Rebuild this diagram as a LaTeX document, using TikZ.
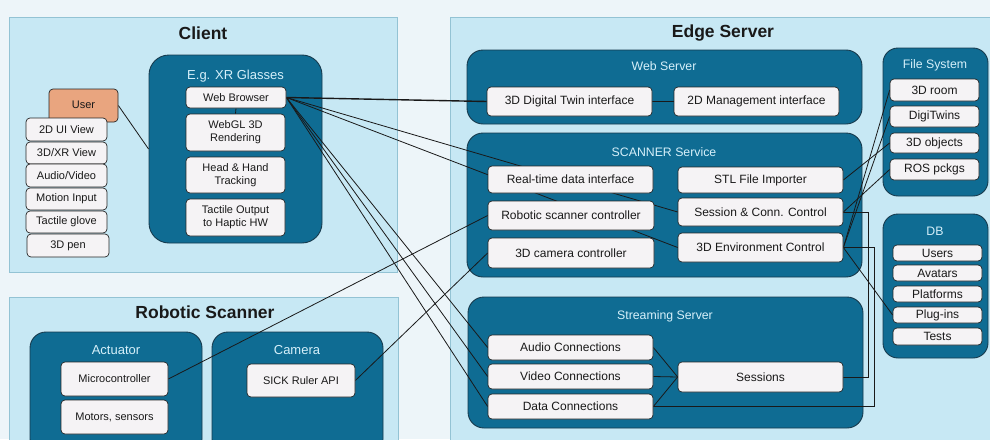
\documentclass[tikz,border=0pt]{standalone}
\usepackage{fontspec}
\setmainfont{Liberation Sans}
\usetikzlibrary{calc}

\definecolor{bgc}{HTML}{EDF5F9}
\definecolor{panel}{HTML}{C7E8F4}
\definecolor{panelline}{HTML}{93C3D4}
\definecolor{cont}{HTML}{0F6C93}
\definecolor{contline}{HTML}{173B4E}
\definecolor{contText}{HTML}{D6F0FA}
\definecolor{boxfill}{HTML}{F5F3F5}
\definecolor{userfill}{HTML}{E9A57F}

\pgfdeclarelayer{back}
\pgfdeclarelayer{wires}
\pgfsetlayers{back,wires,main}

\tikzset{
  box/.style={draw=black!85, fill=boxfill, rounded corners=4pt, line width=0.7pt,
    inner sep=1pt, align=center, text=black!90, font=\fontsize{11}{13}\selectfont},
  ebox/.style={box, font=\fontsize{12}{14}\selectfont},
  userbox/.style={box, fill=userfill},
  container/.style={draw=contline, fill=cont, rounded corners=16pt, line width=0.9pt, inner sep=0pt},
  panelbox/.style={draw=panelline, fill=panel, line width=0.6pt, inner sep=0pt},
  ptitle/.style={font=\fontsize{17.5}{20}\selectfont\bfseries, text=black!90},
  ctitle/.style={font=\fontsize{13}{15}\selectfont, text=contText},
  etitle/.style={font=\fontsize{12.3}{14}\selectfont, text=contText},
  wire/.style={draw=black!90, line width=0.8pt},
}

% \bx[style]{name}{x1}{y1}{x2}{y2}{text}: a node filling the given rectangle
\newcommand\bx[7][box]{%
  \pgfmathsetmacro\bxw{#5-(#3)}%
  \pgfmathsetmacro\bxh{#6-(#4)}%
  \pgfmathsetmacro\bxcx{(#3+#5)/2}%
  \pgfmathsetmacro\bxcy{(#4+#6)/2}%
  \node[#1, minimum width=\bxw pt, minimum height=\bxh pt] (#2) at (\bxcx,\bxcy) {#7};%
}

\begin{document}
\begin{tikzpicture}[x=1pt,y=-1pt]
\useasboundingbox (0,0) rectangle (990,439);

\begin{pgfonlayer}{back}
  \fill[bgc] (0,0) rectangle (990,439);
  % panels
  \bx[panelbox]{clientp}{9}{17}{397}{272}{}
  \bx[panelbox]{robp}{9}{297}{398}{447}{}
  \bx[panelbox]{edgep}{450}{17}{995}{447}{}
  % containers
  \bx[container, rounded corners=20pt]{xr}{149}{55}{322}{243}{}
  \bx[container]{act}{30}{332}{202}{455}{}
  \bx[container]{cam}{212}{332}{383}{455}{}
  \bx[container]{websrv}{467}{50}{862}{124}{}
  \bx[container]{scan}{467}{133}{862}{277}{}
  \bx[container]{stream}{468}{297}{863}{428}{}
  \bx[container, rounded corners=15pt]{fs}{883}{48}{988}{196}{}
  \bx[container, rounded corners=15pt]{db}{883}{214}{988}{358}{}
\end{pgfonlayer}

% panel and container titles
\node[ptitle] (tclient) at (203,33) {Client};
\node[ptitle] (tedge) at (723,33) {Edge Server};
\node[ptitle] (trob) at (205,312) {Robotic Scanner};
\node[ctitle] (txr) at (235.5,76) {E.g. XR Glasses};
\node[ctitle] (tact) at (116,350) {Actuator};
\node[ctitle] (tcam) at (297,350) {Camera};
\node[etitle] (tweb) at (664,66) {Web Server};
\node[etitle] (tscan) at (664,152) {SCANNER Service};
\node[etitle] (tstream) at (665,316) {Streaming Server};
\node[etitle] (tfs) at (935,65) {File System};
\node[etitle] (tdb) at (935,231) {DB};

% client devices
\bx[userbox]{user}{49}{89}{118}{122}{\raisebox{2pt}{User}}
\bx{ui2d}{26}{118}{107}{141}{2D UI View}
\bx{ui3d}{26}{142}{107}{164}{3D/XR View}
\bx{av}{26}{164}{107}{187}{Audio/Video}
\bx{motion}{26}{188}{107}{210}{Motion Input}
\bx{tglove}{26}{211}{107}{233}{Tactile glove}
\bx{pen}{27}{234}{109}{257}{3D pen}

% XR glasses
\bx{wb}{186}{87}{286}{108}{Web Browser}
\bx{webgl}{186}{114}{285}{151}{WebGL 3D\\Rendering}
\bx{track}{186}{157}{285}{193}{Head \& Hand\\Tracking}
\bx{tact}{186}{199}{285}{236}{Tactile Output\\to Haptic HW}

% robotic scanner
\bx{micro}{61}{362}{168}{396}{Microcontroller}
\bx{motors}{61}{400}{168}{434}{Motors, sensors}
\bx{sick}{247}{364}{355}{397}{SICK Ruler API}

% web server
\bx[ebox]{dt}{487}{87}{652}{116}{3D Digital Twin interface}
\bx[ebox]{mgmt}{674}{87}{839}{116}{2D Management interface}

% scanner service
\bx[ebox]{rt}{488}{166}{653}{193}{Real-time data interface}
\bx[ebox]{rsc}{488}{201}{654}{230}{Robotic scanner controller}
\bx[ebox]{cam3d}{488}{238}{654}{268}{3D camera controller}
\bx[ebox]{stl}{678}{167}{843}{193}{STL File Importer}
\bx[ebox]{sess}{678}{198}{843}{226}{Session \& Conn. Control}
\bx[ebox]{env}{678}{233}{843}{262}{3D Environment Control}

% streaming server
\bx[ebox]{audio}{488}{335}{653}{360}{Audio Connections}
\bx[ebox]{video}{488}{364}{653}{389}{Video Connections}
\bx[ebox]{data}{488}{394}{653}{419}{Data Connections}
\bx[ebox]{sessions}{678}{362}{843}{392}{Sessions}

% file system
\bx[ebox]{room}{890}{79}{979}{101}{3D room}
\bx[ebox]{twins}{890}{106}{979}{127}{DigiTwins}
\bx[ebox]{obj}{890}{133}{979}{153}{3D objects}
\bx[ebox]{ros}{890}{159}{979}{180}{ROS pckgs}

% database
\bx[ebox]{users}{893}{245}{982}{261}{Users}
\bx[ebox]{avatars}{893}{265}{982}{281}{Avatars}
\bx[ebox]{platforms}{893}{286}{982}{302}{Platforms}
\bx[ebox]{plugins}{893}{307}{982}{323}{Plug-ins}
\bx[ebox]{tests}{893}{328}{982}{345}{Tests}

% connectors, drawn beneath the boxes
\begin{pgfonlayer}{wires}
  \draw[wire] (user.east) -- (xr.west);
  \draw[wire] (wb.south) -- (webgl.north);
  \draw[wire, line width=1.4pt] (wb.east) -- (dt.west);
  \draw[wire] (dt.east) -- (mgmt.west);
  \draw[wire] (wb.east) -- (sess.west);
  \draw[wire] (wb.east) -- (env.west);
  \draw[wire] (wb.east) -- (audio.west);
  \draw[wire] (wb.east) -- (video.west);
  \draw[wire] (wb.east) -- (data.west);
  \draw[wire] (micro.east) -- (rsc.west);
  \draw[wire] (sick.east) -- (cam3d.west);
  \draw[wire] (audio.east) -- (sessions.west);
  \draw[wire] (video.east) -- (sessions.west);
  \draw[wire] (data.east) -- (sessions.west);
  \draw[wire] (sess.east) -- ++(25,0) |- (sessions.east);
  \draw[wire] (env.east) -- ++(31,0) |- (data.east);
  \draw[wire] (env.east) -- (plugins.west);
  \draw[wire] (env.east) -- (room.west);
  \draw[wire] (env.east) -- (twins.west);
  \draw[wire] (sess.east) -- (ros.west);
  \draw[wire] (stl.east) -- (obj.west);
\end{pgfonlayer}
\end{tikzpicture}
\end{document}
